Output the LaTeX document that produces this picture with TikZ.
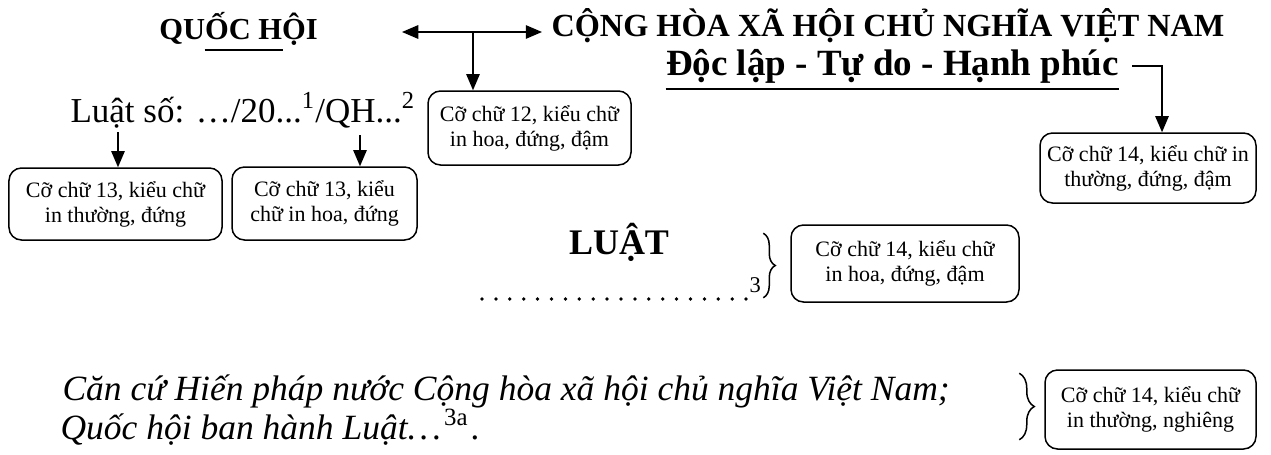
\documentclass[tikz,border=0pt]{standalone}
\usepackage{fontspec}
\setmainfont{Liberation Serif}
\usetikzlibrary{arrows.meta, calc, decorations.pathreplacing}
\tikzset{
  chu/.style={inner sep=0pt, anchor=base},
  hopchu/.style={draw, line width=0.6pt, rounded corners=5pt, align=center, inner sep=0pt,
    font=\fontsize{8.8}{10}\selectfont},
  mui/.style={-{Triangle[length=6.5pt,width=5.4pt]}, line width=0.6pt},
  hai/.style={{Triangle[length=6.5pt,width=5.4pt]}-{Triangle[length=6.5pt,width=5.4pt]}, line width=0.6pt},
  ngoac/.style={decorate, decoration={brace, amplitude=#1}, line width=0.6pt},
  ngoac/.default=5pt
}

\begin{document}
\begin{tikzpicture}[x=0.4pt, y=-0.4pt]
  \useasboundingbox (0,0) rectangle (1271,454);
  \node[chu, font=\fontsize{12.2}{14}\selectfont\bfseries] (quochoi) at (238.5,39) {QUỐC HỘI};
  \draw[line width=0.6pt] ($(quochoi.base)+(-34,11)$) -- ++(78,0);
  \node[chu, font=\fontsize{12.9}{15}\selectfont\bfseries] (conghoa) at (888,36) {CỘNG HÒA XÃ HỘI CHỦ NGHĨA VIỆT NAM};
  \node[chu, font=\fontsize{14.8}{17}\selectfont\bfseries] (doclap) at (892.5,75) {Độc lập - Tự do - Hạnh phúc};
  \draw[line width=0.6pt] ($(doclap.base west)+(0,14)$) -- ($(doclap.base east)+(0,14)$);
  \node[chu, anchor=base west, font=\fontsize{14}{17}\selectfont] (soluat) at (70,122)
    {Luật số: …/20...\textsuperscript{1}/QH...\textsuperscript{2}};

  \node[hopchu, minimum width=85.2pt, minimum height=28.8pt] (hop13a) at (115.5,204) {Cỡ chữ 13, kiểu chữ\\in thường, đứng};
  \node[hopchu, minimum width=74pt, minimum height=29.2pt] (hop13b) at (324.5,203.5) {Cỡ chữ 13, kiểu\\chữ in hoa, đứng};
  \node[hopchu, minimum width=81.2pt, minimum height=29.6pt] (hop12) at (529.5,128) {Cỡ chữ 12, kiểu chữ\\in hoa, đứng, đậm};
  \node[hopchu, minimum width=86.4pt, minimum height=28pt] (hop14a) at (1148,168) {Cỡ chữ 14, kiểu chữ in\\thường, đứng, đậm};
  \node[hopchu, minimum width=91.2pt, minimum height=30.8pt] (hop14b) at (905,263.5) {Cỡ chữ 14, kiểu chữ\\in hoa, đứng, đậm};
  \node[hopchu, minimum width=84.4pt, minimum height=31.6pt] (hop14c) at (1150.5,409.5) {Cỡ chữ 14, kiểu chữ\\in thường, nghiêng};

  \coordinate (trai) at (402,32);
  \coordinate (phai) at (542,32);
  \coordinate (nhanh) at (473,32);
  \draw[hai] (trai) -- (phai);
  \draw[mui] (nhanh) -- (nhanh |- hop12.north);
  \coordinate (luat1) at (118,132);
  \draw[mui] (luat1) -- (luat1 |- hop13a.north);
  \coordinate (luat2) at (360,135);
  \draw[mui] (luat2) -- (luat2 |- hop13b.north);
  \coordinate (goc) at (1132,66);
  \coordinate (re) at (1162,66);
  \draw[mui] (goc) -- (re) -- (re |- hop14a.north);

  \node[chu, font=\fontsize{14.4}{17}\selectfont\bfseries] (luat) at (619,254) {LUẬT};
  \foreach \i in {0,...,19}
    \fill (482+13.9*\i,299) circle (0.75pt);
  \node[chu, anchor=base west, font=\fontsize{9}{10}\selectfont] (chu3) at (749,292) {3};
  \draw[ngoac=4.8pt] ($(hop14b.north west)+(-27,9)$) -- ($(hop14b.south west)+(-27,-5)$);

  \node[chu, anchor=base west, font=\fontsize{14.2}{17}\selectfont\itshape] (cancu) at (62,400)
    {Căn cứ Hiến pháp nước Cộng hòa xã hội chủ nghĩa Việt Nam;};
  \node[chu, anchor=base west, font=\fontsize{14.2}{17}\selectfont\itshape] (banhanh) at (60,439)
    {Quốc hội ban hành Luật.\kern1.5pt.\kern1.5pt.\kern1pt\textsuperscript{\upshape 3a}\kern1pt.};
  \draw[ngoac=6pt] ($(hop14c.north west)+(-25,4)$) -- ($(hop14c.south west)+(-25,-10)$);
\end{tikzpicture}
\end{document}
